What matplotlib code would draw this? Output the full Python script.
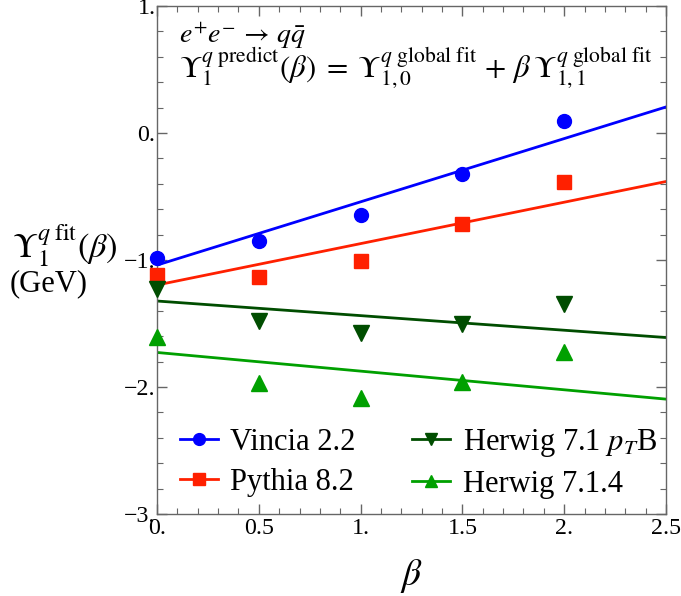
import matplotlib
matplotlib.use("Agg")
import matplotlib.pyplot as plt
import numpy as np
from matplotlib.ticker import FixedLocator, FixedFormatter, MultipleLocator

plt.rcParams['font.family'] = ['Liberation Serif', 'DejaVu Serif']
plt.rcParams['mathtext.fontset'] = 'stix'

beta = [0.0, 0.5, 1.0, 1.5, 2.0]
series_names = ["Vincia 2.2", "Pythia 8.2", "Herwig 7.1 $p_T$B", "Herwig 7.1.4"]
vincia = [-0.982, -0.851, -0.644, -0.320, 0.094]
pythia = [-1.121, -1.134, -1.011, -0.720, -0.385]
herwig_ptb = [-1.231, -1.480, -1.571, -1.506, -1.349]
herwig_714 = [-1.603, -1.967, -2.090, -1.964, -1.723]
fit_intercept = [-1.040, -1.197, -1.323, -1.728]
fit_slope = [0.498, 0.326, -0.115, -0.147]

colors = ['#0000ff', '#ff2000', '#004d00', '#00a000']
markers = ['o', 's', 'v', '^']
msizes = [10, 10.5, 11, 11]

xticks = [0, 0.5, 1.0, 1.5, 2.0, 2.5]
xticklabels = ['0.', '0.5', '1.', '1.5', '2.', '2.5']
yticks = [-3, -2, -1, 0, 1]
yticklabels = ['\u22123.', '\u22122.', '\u22121.', '0.', '1.']

fig = plt.figure(figsize=(6.81, 5.96), dpi=100)
ax = fig.add_axes([157/681, 1-514/596, (666-157)/681, (514-6)/596])

data = [vincia, pythia, herwig_ptb, herwig_714]
xfit = np.array([0.0, 2.5])
for vals, a, b, c, m, ms, name in zip(data, fit_intercept, fit_slope, colors, markers, msizes, series_names):
    ax.plot(beta, vals, linestyle='none', marker=m, color=c, markersize=ms, clip_on=False, zorder=3)
    ax.plot(xfit, a + b * xfit, color=c, lw=2.0, zorder=2)
    ax.plot([], [], color=c, lw=2.0, marker=m, markersize=ms*0.85, label=name)

ax.set_xlim(0, 2.5)
ax.set_ylim(-3, 1)
ax.xaxis.set_major_locator(FixedLocator(xticks))
ax.xaxis.set_major_formatter(FixedFormatter(xticklabels))
ax.yaxis.set_major_locator(FixedLocator(yticks))
ax.yaxis.set_major_formatter(FixedFormatter(yticklabels))
ax.xaxis.set_minor_locator(MultipleLocator(0.1))
ax.yaxis.set_minor_locator(MultipleLocator(0.2))
ax.tick_params(which='both', direction='in', top=True, right=True, color='#666666')
ax.tick_params(which='major', length=7, width=1.0, labelsize=16)
ax.tick_params(axis='y', which='major', pad=1.0)
ax.tick_params(axis='x', which='major', pad=3.0)
ax.tick_params(which='minor', length=4, width=0.8)
for s in ax.spines.values():
    s.set_color('#666666')
    s.set_linewidth(1.0)

t1 = ax.text(0.043, 0.927, r'$e^{+}e^{-}\,\rightarrow\,q\bar{q}$', transform=ax.transAxes, fontsize=21, va='baseline')
t2 = ax.text(0.043, 0.860, r'$\Upsilon_1^{q\ \mathrm{predict}}(\beta)\;=\;\Upsilon_{1,0}^{q\ \mathrm{global\ fit}}\,+\,\beta\,\Upsilon_{1,1}^{q\ \mathrm{global\ fit}}$',
        transform=ax.transAxes, fontsize=22, va='baseline')

t3 = fig.text(12/681, 1-258/596, r'$\Upsilon_1^{q\;\mathrm{fit}}(\beta)$', fontsize=25, va='baseline', ha='left')
t4 = fig.text(10/681, 1-291/596, '(GeV)', fontsize=22, va='baseline', ha='left')
fig.text(411/681, 1-585/596, r'$\beta$', fontsize=27, ha='center', va='baseline')

leg = ax.legend(ncol=2, loc='lower left', bbox_to_anchor=(0.045, 0.03), frameon=False, fontsize=22,
                handlelength=1.25, handletextpad=0.4, columnspacing=1.85, labelspacing=0.35, borderaxespad=0,
                borderpad=0)

# fit text sizes to the reference's pixel widths
fig.canvas.draw()
r = fig.canvas.get_renderer()
for t, target in [(t1, 127), (t2, 472), (t3, 106), (t4, 78)]:
    w = t.get_window_extent(r).width
    t.set_fontsize(t.get_fontsize() * target / w)
lab = ax.get_xticklabels()[1]
w = lab.get_window_extent(r).width
ax.tick_params(which='major', labelsize=16 * 30 / w)

fig.savefig('out.png', dpi=100)
